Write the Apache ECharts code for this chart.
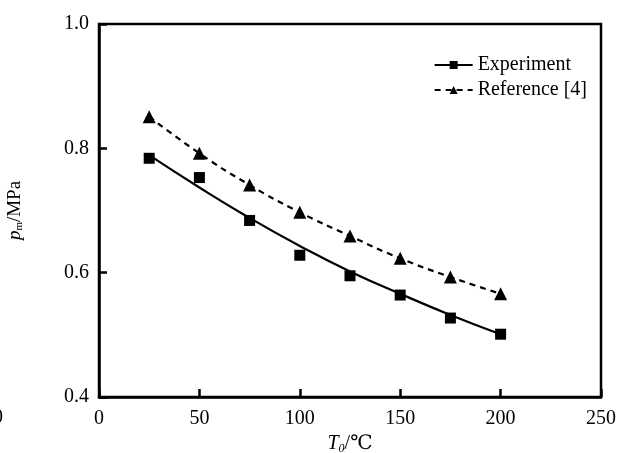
<!DOCTYPE html>
<html>
<head>
<meta charset="utf-8">
<script src="https://cdn.jsdelivr.net/npm/echarts@6/dist/echarts.min.js"></script>
<style>
  html, body { margin: 0; padding: 0; background: #fff; }
  #chart { width: 628px; height: 453px; }
</style>
</head>
<body>
<div id="chart"></div>
<script>
// 温度 T0 (°C)
const temps = [25, 50, 75, 100, 125, 150, 175, 200]
// 实验点
const experiment = [0.784, 0.753, 0.684, 0.628, 0.595, 0.564, 0.527, 0.501]
// 实验拟合曲线
const experimentFit = [0.789, 0.737, 0.688, 0.643, 0.602, 0.566, 0.532, 0.501]
// 文献[4]
const reference = [0.851, 0.792, 0.741, 0.697, 0.659, 0.623, 0.593, 0.566]
const xTicks = [0, 50, 100, 150, 200, 250]
const yTicks = [0.4, 0.6, 0.8, 1.0]

const font = '"Liberation Serif", "DejaVu Serif", serif'
const pair = (arr) => temps.map((t, i) => [t, arr[i]])

const chart = echarts.init(document.getElementById('chart'))

chart.setOption({
  animation: false,
  textStyle: { fontFamily: font, color: '#000' },
  grid: {
    left: 99,
    right: 27,
    top: 24,
    bottom: 56,
    containLabel: false,
    outerBoundsMode: 'none',
    show: true,
    borderColor: '#000',
    borderWidth: 2.5,
  },
  legend: {
    right: 36,
    top: 50,
    orient: 'vertical',
    itemWidth: 38,
    itemHeight: 10,
    itemGap: 5,
    data: ['Experiment', 'Reference [4]'],
    textStyle: { fontFamily: font, fontSize: 20, color: '#000' },
  },
  xAxis: {
    type: 'value',
    min: xTicks[0],
    max: xTicks[xTicks.length - 1],
    interval: 50,
    name: '{i|T}{s|0}{n|/℃}',
    nameLocation: 'middle',
    nameGap: 36,
    nameTextStyle: {
      rich: {
        i: { fontFamily: font, fontStyle: 'italic', fontSize: 20, color: '#000' },
        s: { fontFamily: font, fontStyle: 'italic', fontSize: 12, color: '#000', padding: [9, 0, 0, 0] },
        n: { fontFamily: font, fontSize: 20, color: '#000' },
      },
    },
    axisLine: { lineStyle: { color: '#000', width: 2.5 } },
    axisTick: { inside: true, length: 8, lineStyle: { color: '#000', width: 2.5 } },
    axisLabel: { fontFamily: font, fontSize: 20, color: '#000', margin: 12 },
    splitLine: { show: false },
  },
  yAxis: {
    type: 'value',
    min: yTicks[0],
    max: yTicks[yTicks.length - 1],
    interval: 0.2,
    name: '{i|p}{s|m}{n|/MPa}',
    nameLocation: 'middle',
    nameGap: 74,
    nameTextStyle: {
      rich: {
        i: { fontFamily: font, fontStyle: 'italic', fontSize: 19, color: '#000' },
        s: { fontFamily: font, fontSize: 11, color: '#000', padding: [9, 0, 0, 0] },
        n: { fontFamily: font, fontSize: 19, color: '#000' },
      },
    },
    axisLine: { lineStyle: { color: '#000', width: 2.5 } },
    axisTick: { inside: true, length: 8, lineStyle: { color: '#000', width: 2.5 } },
    axisLabel: {
      fontFamily: font,
      fontSize: 20,
      color: '#000',
      margin: 10,
      formatter: (v) => v.toFixed(1),
    },
    splitLine: { show: false },
  },
  graphic: [
    {
      type: 'text',
      left: -7,
      top: 408,
      style: { text: '0', font: '20px ' + font, fill: '#000' },
    },
  ],
  series: [
    {
      name: 'Experiment',
      type: 'line',
      data: pair(experimentFit),
      smooth: true,
      symbol: 'rect',
      symbolSize: 9,
      showSymbol: false,
      itemStyle: { color: '#000' },
      lineStyle: { color: '#000', width: 2.2 },
      z: 2,
    },
    {
      name: 'Experiment',
      type: 'scatter',
      data: pair(experiment),
      symbol: 'rect',
      symbolSize: 11,
      itemStyle: { color: '#000', opacity: 1 },
      z: 3,
    },
    {
      name: 'Reference [4]',
      type: 'line',
      data: pair(reference),
      smooth: true,
      symbol: 'triangle',
      symbolSize: 13,
      itemStyle: { color: '#000' },
      lineStyle: { color: '#000', width: 2.2, type: [6, 5] },
      z: 3,
    },
  ],
})
</script>
</body>
</html>
